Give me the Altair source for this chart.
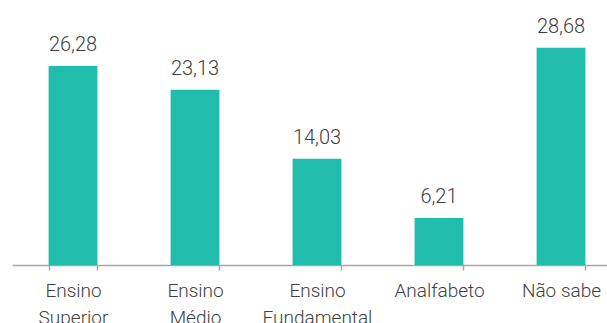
import altair as alt
import pandas as pd

categories = ["Ensino|Superior", "Ensino|Médio", "Ensino|Fundamental", "Analfabeto", "Não sabe"]
values = [26.28, 23.13, 14.03, 6.21, 28.68]

df = pd.DataFrame({"cat": categories, "val": values})

FONT = "Roboto"
TEXT_COLOR = "#404040"
BAR_COLOR = "#21BDAC"

x = alt.X(
    "cat:N",
    sort=categories,
    title=None,
    scale=alt.Scale(range=[0, 610], paddingInner=0.6, paddingOuter=0.3),
    axis=alt.Axis(
        labelExpr="isString(datum.value) ? split(datum.value, '|') : ''",
        labelAngle=0,
        labelFont=FONT,
        labelFontWeight=300,
        labelFontSize=19,
        labelColor=TEXT_COLOR,
        labelLineHeight=27,
        labelPadding=11,
        labelBaseline="top",
        tickBand="extent",
        tickSize=5,
        tickColor="#A6A6A6",
        tickWidth=1.5,
        domainColor="#A6A6A6",
        domainWidth=1.5,
        grid=False,
    ),
)
y = alt.Y("val:Q", scale=alt.Scale(domain=[0, 35], nice=False), axis=None)

bars = alt.Chart(df).mark_bar(color=BAR_COLOR).encode(x=x, y=y)
labels = (
    alt.Chart(df)
    .transform_calculate(txt="replace(format(datum.val, '.2f'), '.', ',')")
    .mark_text(
        dy=-15,
        baseline="alphabetic",
        font=FONT,
        fontWeight=300,
        fontSize=20,
        color=TEXT_COLOR,
    )
    .encode(x=x, y=y, text="txt:N")
)

chart = (
    alt.layer(bars, labels)
    .properties(
        width=595,
        height=265,
        autosize=alt.AutoSizeParams(type="none"),
        padding={"left": 12, "top": 0, "right": 0, "bottom": 58},
    )
    .configure_view(stroke=None)
)

chart.save("out.html", embed_options={"renderer": "svg", "actions": False})
